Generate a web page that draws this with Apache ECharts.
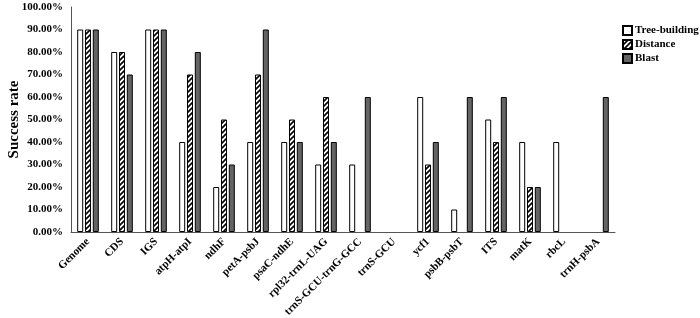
<!DOCTYPE html>
<html lang="en">
<head>
    <meta charset="UTF-8">
    <title>Success rate</title>
    <script src="https://cdn.jsdelivr.net/npm/echarts@6/dist/echarts.min.js"></script>
    <style>
        html, body { margin: 0; padding: 0; background: #fff; }
        #charts { width: 700px; height: 318px; }
    </style>
</head>
<body>
<div id="charts"></div>
<script>
    var categories = ['Genome', 'CDS', 'IGS', 'atpH-atpI', 'ndhF', 'petA-psbJ', 'psaC-ndhE', 'rpl32-trnL-UAG',
        'trnS-GCU-trnG-GCC', 'trnS-GCU', 'ycf1', 'psbB-psbT', 'ITS', 'matK', 'rbcL', 'trnH-psbA'];
    var treeBuilding = [90, 80, 90, 40, 20, 40, 40, 30, 30, 0, 60, 10, 50, 40, 40, 0];
    var distance     = [90, 80, 90, 70, 50, 70, 50, 60, 0, 0, 30, 0, 40, 20, 0, 0];
    var blast        = [90, 70, 90, 80, 30, 90, 40, 40, 60, 0, 40, 60, 60, 20, 0, 60];

    // hatch pattern for Distance
    var cv = document.createElement('canvas');
    cv.width = 5; cv.height = 5;
    var ctx = cv.getContext('2d');
    ctx.fillStyle = '#fff';
    ctx.fillRect(0, 0, 5, 5);
    ctx.strokeStyle = '#000';
    ctx.lineWidth = 1.6;
    ctx.beginPath();
    ctx.moveTo(-1, 6); ctx.lineTo(6, -1);
    ctx.moveTo(-1, 1); ctx.lineTo(1, -1);
    ctx.moveTo(4, 6); ctx.lineTo(6, 4);
    ctx.stroke();

    var font = '"Liberation Serif", "Times New Roman", serif';
    function noZero(arr) {
        return arr.map(function (v) { return v === 0 ? '-' : v; });
    }

    var myChart = echarts.init(document.getElementById('charts'));
    var option = {
        animation: false,
        grid: { left: 71, right: 85, top: 7, bottom: 86, outerBoundsMode: 'none' },
        legend: {
            orient: 'vertical',
            left: 617,
            top: 20,
            icon: 'rect',
            itemWidth: 9,
            itemHeight: 9,
            itemGap: 3,
            textStyle: { fontFamily: font, fontWeight: 'bold', fontSize: 11, color: '#000', padding: [0, 0, 0, -2] },
            data: ['Tree-building', 'Distance', 'Blast']
        },
        xAxis: {
            type: 'category',
            data: categories,
            axisLine: { lineStyle: { color: '#555' } },
            axisTick: { show: false },
            axisLabel: {
                rotate: 45, interval: 0, margin: 8,
                fontFamily: font, fontWeight: 'bold', fontSize: 11, color: '#000'
            }
        },
        yAxis: {
            type: 'value',
            min: 0, max: 100, interval: 10,
            name: 'Success rate',
            nameLocation: 'middle',
            nameGap: 49,
            nameMoveOverlap: false,
            nameTextStyle: { fontFamily: font, fontWeight: 'bold', fontSize: 15, color: '#000' },
            axisLine: { show: true, lineStyle: { color: '#555' } },
            axisTick: { show: false },
            splitLine: { show: false },
            axisLabel: {
                fontFamily: font, fontWeight: 'bold', fontSize: 11, color: '#000', margin: 8,
                formatter: function (v) { return v.toFixed(2) + '%'; }
            }
        },
        series: [
            {
                name: 'Tree-building', type: 'bar', barWidth: 6, barGap: '30%',
                data: noZero(treeBuilding),
                itemStyle: { color: '#fff', borderColor: '#000', borderWidth: 1 }
            },
            {
                name: 'Distance', type: 'bar', barWidth: 6, barGap: '30%',
                data: noZero(distance),
                itemStyle: { color: { image: cv, repeat: 'repeat' }, borderColor: '#000', borderWidth: 1 }
            },
            {
                name: 'Blast', type: 'bar', barWidth: 6, barGap: '30%',
                data: noZero(blast),
                itemStyle: { color: '#646464', borderColor: '#000', borderWidth: 1 }
            }
        ]
    };
    myChart.setOption(option);
</script>
</body>
</html>
